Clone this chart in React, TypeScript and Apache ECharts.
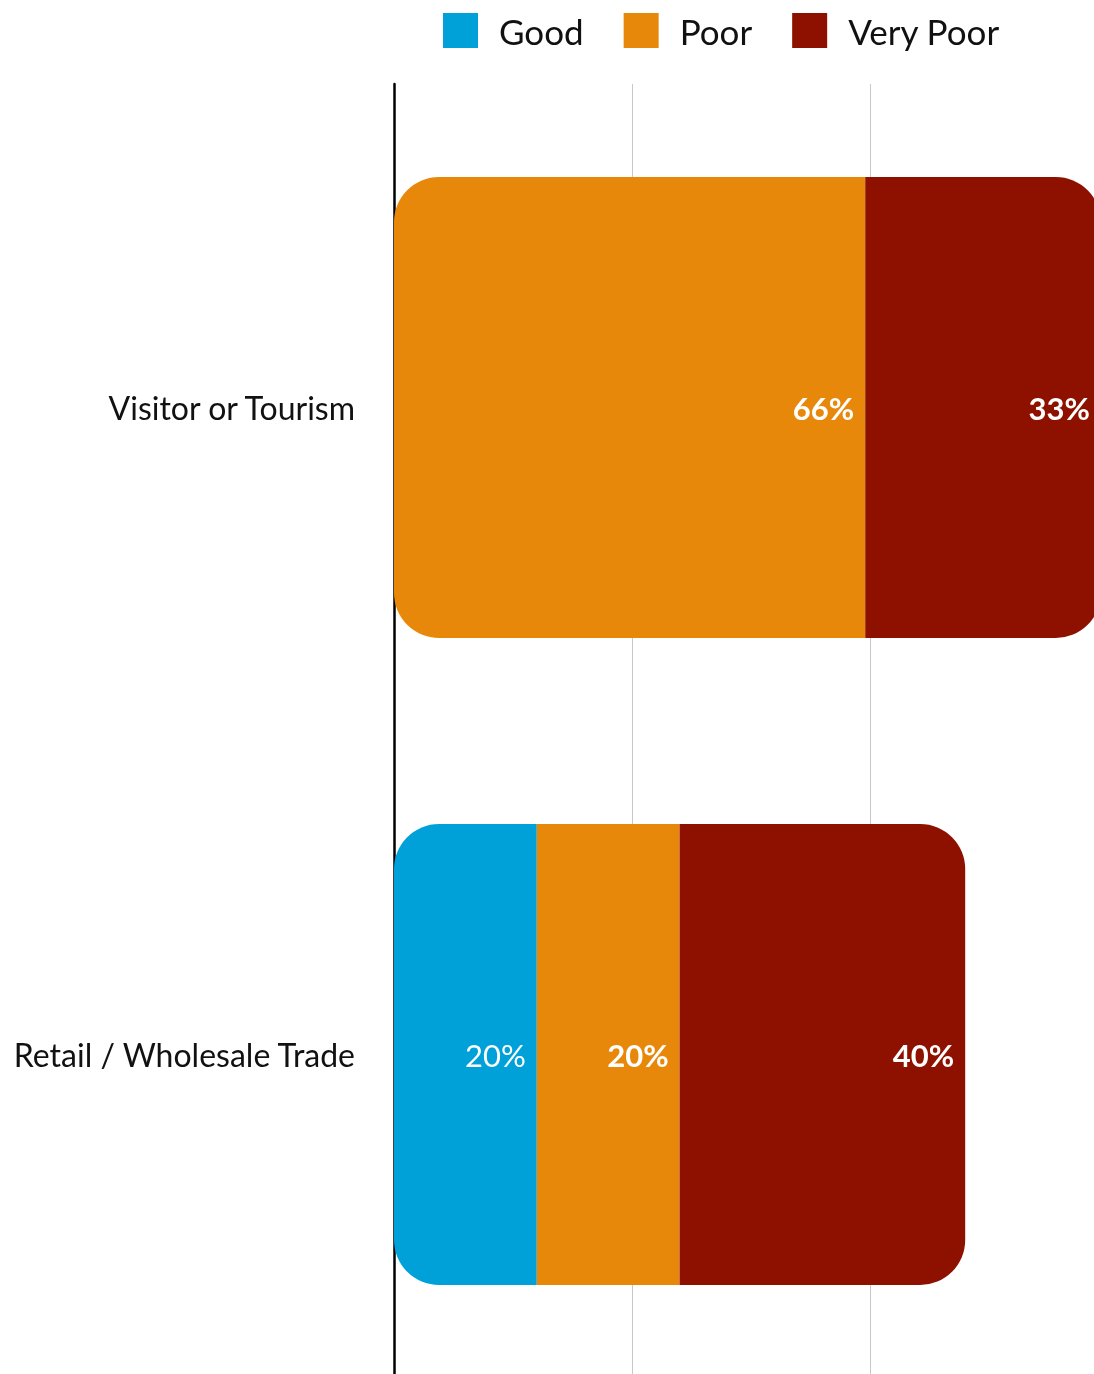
import React, { useEffect, useRef } from "react";
import * as echarts from "echarts";

const categories = ["Visitor or Tourism", "Retail / Wholesale Trade"];
const seriesNames = ["Good", "Poor", "Very Poor"];
const goodValues: (number | null)[] = [null, 20];
const poorValues: (number | null)[] = [66, 20];
const veryPoorValues: (number | null)[] = [33, 40];
const colors = ["#00A1D8", "#E8880B", "#8E1100"];
const labelWeights = ["normal", "bold", "bold"];

const FONT = "Lato, 'Noto Sans', sans-serif";
const R = 45;

export default function App() {
  const ref = useRef<HTMLDivElement>(null);
  useEffect(() => {
    if (!ref.current) return;
    const chart = echarts.init(ref.current, null, { renderer: "svg" });
    const all = [goodValues, poorValues, veryPoorValues];
    const series = all.map((vals, si) => ({
      name: seriesNames[si],
      type: "bar",
      stack: "total",
      barWidth: 461,
      itemStyle: { color: colors[si] },
      label: {
        show: true,
        position: "insideRight",
        distance: 11,
        color: "#fff",
        fontFamily: FONT,
        fontSize: 31,
        fontWeight: labelWeights[si],
        formatter: (p: any) => (p.value == null ? "" : p.value + "%"),
      },
      data: vals.map((v, ci) => {
        if (v == null) return { value: null };
        const nonNull = all.map((a) => a[ci]).map((x, i) => (x != null && x > 0 ? i : -1)).filter((i) => i >= 0);
        const first = nonNull[0] === si;
        const last = nonNull[nonNull.length - 1] === si;
        return {
          value: v,
          itemStyle: {
            borderRadius: [first ? R : 0, last ? R : 0, last ? R : 0, first ? R : 0],
          },
        };
      }),
    }));
    chart.setOption({
      animation: false,
      legend: {
        left: 443,
        top: 13,
        padding: 0,
        itemWidth: 35,
        itemHeight: 35,
        itemGap: 40,
        icon: "rect",
        data: seriesNames,
        textStyle: {
          fontFamily: FONT,
          fontSize: 35,
          color: "#111",
          padding: [0, 0, 0, 16],
        },
      },
      grid: { left: 394, top: 84, width: 714, height: 1294 },
      xAxis: {
        type: "value",
        min: 0,
        max: 100,
        interval: 100 / 3,
        axisLabel: { show: false },
        axisLine: { show: false },
        axisTick: { show: false },
        splitLine: { lineStyle: { color: "#c8c8c8", width: 1 } },
      },
      yAxis: {
        type: "category",
        inverse: true,
        data: categories,
        axisTick: { show: false },
        axisLine: { lineStyle: { color: "#000", width: 2.5 } },
        axisLabel: {
          fontFamily: FONT,
          fontSize: 32,
          color: "#111",
          margin: 39,
        },
      },
      series,
    });
    return () => chart.dispose();
  }, []);
  return (
    <div
      ref={ref}
      style={{ position: "fixed", left: 0, top: 0, width: 1110, height: 1390 }}
    />
  );
}
